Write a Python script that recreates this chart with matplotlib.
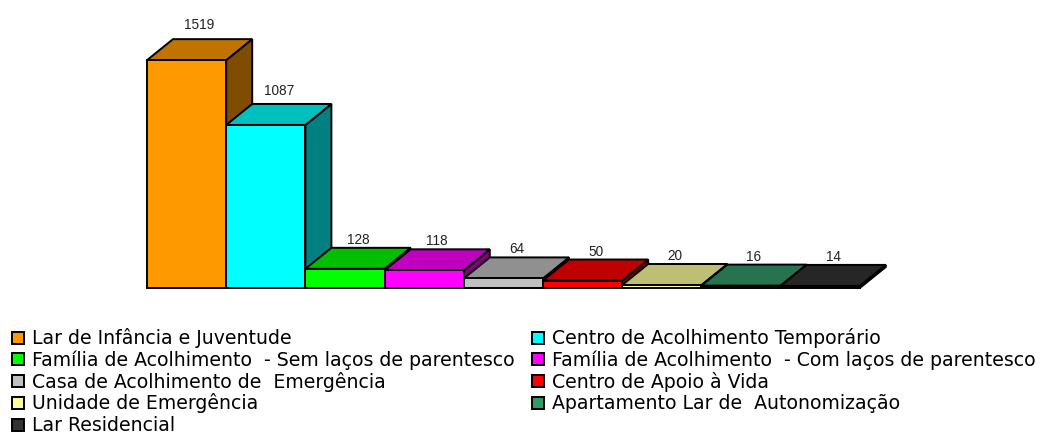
import matplotlib
matplotlib.use("Agg")
import matplotlib.pyplot as plt
from matplotlib.patches import Polygon, Rectangle
from matplotlib.colors import to_rgb

categories = [
    "Lar de Infância e Juventude",
    "Centro de Acolhimento Temporário",
    "Família de Acolhimento  - Sem laços de parentesco",
    "Família de Acolhimento  - Com laços de parentesco",
    "Casa de Acolhimento de  Emergência",
    "Centro de Apoio à Vida",
    "Unidade de Emergência",
    "Apartamento Lar de  Autonomização",
    "Lar Residencial",
]
values = [1519, 1087, 128, 118, 64, 50, 20, 16, 14]
colors = ["#FF9900", "#00FFFF", "#00FF00", "#FF00FF", "#C0C0C0",
          "#FF0000", "#FFFF99", "#339966", "#333333"]

plt.rcParams["font.family"] = ["Liberation Sans", "DejaVu Sans"]


def shade(c, f):
    r, g, b = to_rgb(c)
    return (r * f, g * f, b * f)


W, H = 1043, 433
fig = plt.figure(figsize=(W / 100, H / 100), dpi=100)
fig.patch.set_facecolor("white")

# plot area (pixels from top-left)
left_px, right_px, base_px, top_px = 147, 890, 288, 0
ax = fig.add_axes([left_px / W, 1 - base_px / H,
                   (right_px - left_px) / W, (base_px - top_px) / H])
ax.axis("off")

unit_px = 79.2          # width of one bar in pixels
ymax = 1920
ax.set_xlim(0, (right_px - left_px) / unit_px)
ax.set_ylim(0, ymax)

depth_px = (26, 21)
DX = depth_px[0] / unit_px
DY = depth_px[1] / ((base_px - top_px) / ymax)

lw = 1.4
for i, (v, c) in enumerate(zip(values, colors)):
    x0, x1 = i, i + 1
    side = Polygon([(x1, 0), (x1 + DX, DY), (x1 + DX, v + DY), (x1, v)],
                   closed=True, facecolor=shade(c, 0.5), edgecolor="black",
                   lw=lw, joinstyle="miter", clip_on=False)
    top = Polygon([(x0, v), (x1, v), (x1 + DX, v + DY), (x0 + DX, v + DY)],
                  closed=True, facecolor=shade(c, 0.75), edgecolor="black",
                  lw=lw, joinstyle="miter", clip_on=False)
    front = Rectangle((x0, 0), 1, v, facecolor=c, edgecolor="black",
                      lw=lw, joinstyle="miter", clip_on=False)
    for p in (side, top, front):
        ax.add_patch(p)
    ax.annotate(str(v), (x0 + 0.5 + DX / 2, v * 1.03 + DY), xytext=(0, 5.5),
                textcoords="offset points", ha="center", va="center",
                fontsize=9.8, color="#222222")

# legend, two columns filled row by row
col_x = [12, 532]
text_dx = 20
base0, row_h = 344, 21.75
box = 12
for k, (lab, c) in enumerate(zip(categories, colors)):
    row, col = divmod(k, 2)
    bl = base0 + row * row_h
    bx = col_x[col]
    fig.add_artist(Rectangle((bx / W, 1 - (bl - 0.5) / H), box / W, box / H,
                             transform=fig.transFigure, facecolor=c,
                             edgecolor="black", lw=1.4))
    fig.text((bx + text_dx) / W, 1 - bl / H, lab, ha="left", va="baseline",
             fontsize=13.6, color="black", family=["DejaVu Sans"])

fig.savefig("out.png", dpi=100, facecolor="white")
